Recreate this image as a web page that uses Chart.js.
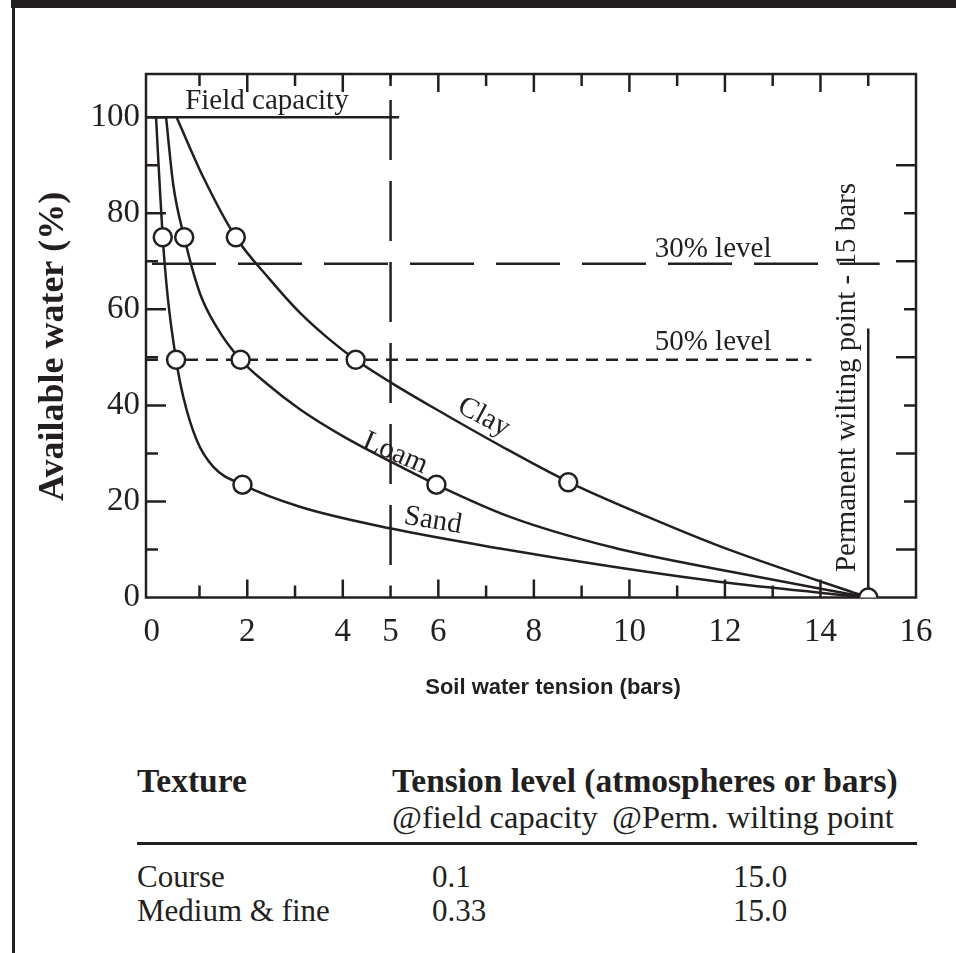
<!DOCTYPE html>
<html>
<head>
<meta charset="utf-8">
<script src="https://cdn.jsdelivr.net/npm/chart.js@4.4.1/dist/chart.umd.min.js"></script>
<style>
  html, body { margin: 0; padding: 0; background: #fff; }
  body { width: 956px; height: 953px; position: relative; overflow: hidden; font-family: 'Liberation Serif', serif; color: #231f20; }
  #topbar { position: absolute; left: 11px; top: 0; width: 945px; height: 8px; background: #231f20; }
  #leftline { position: absolute; left: 12px; top: 8px; width: 3px; height: 945px; background: #231f20; }
  #chart { position: absolute; left: 0; top: 0; }
  .t { position: absolute; white-space: nowrap; line-height: 32px; font-size: 31px; }
  .s { font-size: 32.5px; }
  .b { font-weight: bold; font-size: 33.5px; }
  #rule { position: absolute; left: 137px; top: 842px; width: 780px; height: 3px; background: #231f20; }
</style>
</head>
<body>
<div id="topbar"></div>
<div id="leftline"></div>
<canvas id="chart" width="956" height="720"></canvas>

<div class="t b" style="left:137px;top:765px">Texture</div>
<div class="t b" style="left:392px;top:765px">Tension level (atmospheres or bars)</div>
<div class="t s" style="left:392px;top:801px">@field capacity</div>
<div class="t s" style="left:612px;top:801px">@Perm. wilting point</div>
<div id="rule"></div>
<div class="t" style="left:137px;top:861px">Course</div>
<div class="t" style="left:432px;top:861px">0.1</div>
<div class="t" style="left:733px;top:861px">15.0</div>
<div class="t" style="left:137px;top:895px">Medium &amp; fine</div>
<div class="t" style="left:432px;top:895px">0.33</div>
<div class="t" style="left:733px;top:895px">15.0</div>

<script>
var ink = '#231f20';

// curves: x = tension (bars), y = available water (%)
var clayX = [0.52, 1.08, 1.76, 2.45, 3.10, 3.70, 4.27, 5.0, 5.9, 7.3, 8.72, 10.36, 12.1, 15];
var clayY = [100, 87.5, 75, 66.5, 59.3, 53.9, 49.5, 44.8, 39.5, 31.6, 24.1, 16.9, 9.9, 0];
var loamX = [0.30, 0.45, 0.68, 1.01, 1.36, 1.86, 2.41, 3.1, 4.0, 5.0, 5.96, 7.5, 9.66, 12.1, 15];
var loamY = [100, 86, 75, 63.3, 56.3, 49.5, 44.5, 39.2, 33.6, 28.3, 23.5, 16.8, 10.4, 5.4, 0];
var sandX = [0.09, 0.16, 0.23, 0.33, 0.51, 0.66, 0.94, 1.29, 1.90, 3.10, 4.99, 7.29, 9.66, 12.1, 15];
var sandY = [100, 87, 75, 63, 49.5, 41.8, 32.8, 27.2, 23.5, 18.9, 14.4, 10.2, 6.4, 3.0, 0];

// circled points (25, 50 and 75 % depletion)
var clayPtX = [1.76, 4.27, 8.72];
var clayPtY = [75, 49.5, 24];
var loamPtX = [0.68, 1.86, 5.96];
var loamPtY = [75, 49.5, 23.5];
var sandPtX = [0.23, 0.51, 1.90];
var sandPtY = [75, 49.5, 23.5];
var pwpPtX = [15];
var pwpPtY = [0];

// reference lines
var fieldCapX = [-0.12, 5.18];
var fieldCapY = [100, 100];
var level30X = [-0.12, 15.24];
var level30Y = [69.5, 69.5];
var level50X = [-0.12, 13.81];
var level50Y = [49.5, 49.5];
var fiveBarX = [5, 5];
var fiveBarY = [109, 3.5];
var pwpLineX = [15, 15];
var pwpLineY = [0, 56];

// axes
var xTickLabels = [0, 2, 4, 5, 6, 8, 10, 12, 14, 16];
var yTickLabels = [0, 20, 40, 60, 80, 100];
var xMinorTicks = [1, 2, 3, 4, 5, 6, 7, 8, 9, 10, 11, 12, 13, 14, 15];
var yMinorTicks = [10, 20, 30, 40, 50, 60, 70, 80, 90, 100];

function pts(xs, ys) {
  return xs.map(function (v, i) { return { x: v, y: ys[i] }; });
}

function curve(xs, ys) {
  return { data: pts(xs, ys), showLine: true, borderColor: ink, borderWidth: 2.5,
    pointRadius: 0, cubicInterpolationMode: 'monotone', order: 2 };
}

function refLine(xs, ys, dash, offset) {
  return { data: pts(xs, ys), showLine: true, borderColor: ink, borderWidth: 2.5,
    pointRadius: 0, borderDash: dash, borderDashOffset: offset || 0, order: 3 };
}

function circles(xs, ys) {
  return { data: pts(xs, ys), showLine: false, pointRadius: 9, pointHoverRadius: 9,
    pointBorderWidth: 2.5, pointBackgroundColor: '#fff', pointBorderColor: ink, order: 0 };
}

// text on the plot, anchored in data units
var serif = '29px "Liberation Serif"';
var notes = [
  { text: 'Field capacity', x: 0.70, y: 101.7, angle: 0 },
  { text: '30% level', x: 10.53, y: 70.9, angle: 0 },
  { text: '50% level', x: 10.53, y: 51.5, angle: 0 },
  { text: 'Clay', x: 6.37, y: 38.8, angle: 28 },
  { text: 'Loam', x: 4.38, y: 31.3, angle: 23 },
  { text: 'Sand', x: 5.26, y: 15.4, angle: 9.5 },
  { text: 'Permanent wilting point - 15 bars', x: 14.73, y: 5.3, angle: -90 },
  // axis titles
  { text: 'Soil water tension (bars)', x: 8.4, y: -18.8, angle: 0, align: 'center', base: 'middle',
    font: 'bold 22px "Liberation Sans"' },
  { text: 'Available water (%)', x: -2.06, y: 52.3, angle: -90, align: 'center', base: 'middle',
    font: 'bold 36px "Liberation Serif"' }
];

var frame = {
  id: 'frame',
  beforeDatasetsDraw: function (chart) {
    var ctx = chart.ctx, a = chart.chartArea, sx = chart.scales.x, sy = chart.scales.y;
    ctx.save();
    ctx.strokeStyle = ink;
    ctx.lineWidth = 2.5;
    ctx.strokeRect(a.left, a.top, a.right - a.left, a.bottom - a.top);
    ctx.beginPath();
    xMinorTicks.forEach(function (v) {
      var px = sx.getPixelForValue(v);
      var len = v % 2 === 0 ? 18 : 12;
      ctx.moveTo(px, a.bottom); ctx.lineTo(px, a.bottom - len);
      ctx.moveTo(px, a.top); ctx.lineTo(px, a.top + len);
    });
    yMinorTicks.forEach(function (v) {
      var py = sy.getPixelForValue(v);
      var len = v % 20 === 0 ? 20 : 12;
      ctx.moveTo(a.left, py); ctx.lineTo(a.left + len, py);
      if (v < 100) {
        var rlen = v % 20 === 0 ? 12 : 20;
        ctx.moveTo(a.right, py); ctx.lineTo(a.right - rlen, py);
      }
    });
    ctx.stroke();
    ctx.restore();
  }
};

var annotate = {
  id: 'annotate',
  afterDatasetsDraw: function (chart) {
    var ctx = chart.ctx, sx = chart.scales.x, sy = chart.scales.y;
    ctx.save();
    ctx.fillStyle = ink;
    notes.forEach(function (n) {
      ctx.save();
      ctx.font = n.font || serif;
      ctx.textAlign = n.align || 'left';
      ctx.textBaseline = n.base || 'alphabetic';
      ctx.translate(sx.getPixelForValue(n.x), sy.getPixelForValue(n.y));
      ctx.rotate(n.angle * Math.PI / 180);
      ctx.fillText(n.text, 0, 0);
      ctx.restore();
    });
    ctx.restore();
  }
};

new Chart(document.getElementById('chart'), {
  type: 'scatter',
  data: {
    datasets: [
      curve(clayX, clayY),
      curve(loamX, loamY),
      curve(sandX, sandY),
      refLine(fieldCapX, fieldCapY, []),
      refLine(level30X, level30Y, [64, 22], 80),
      refLine(level50X, level50Y, [12, 8]),
      refLine(fiveBarX, fiveBarY, [60, 21], 55),
      refLine(pwpLineX, pwpLineY, []),
      circles(clayPtX, clayPtY),
      circles(loamPtX, loamPtY),
      circles(sandPtX, sandPtY),
      circles(pwpPtX, pwpPtY)
    ]
  },
  options: {
    responsive: false,
    animation: false,
    devicePixelRatio: 1,
    layout: { padding: { left: 0, right: 40, top: 74, bottom: 0 } },
    plugins: { legend: { display: false }, tooltip: { enabled: false } },
    scales: {
      x: {
        type: 'linear', min: -0.12, max: 16,
        grid: { display: false, drawTicks: false },
        border: { display: false },
        afterBuildTicks: function (s) { s.ticks = xTickLabels.map(function (v) { return { value: v }; }); },
        afterFit: function (s) { s.height = 122.5; },
        ticks: { padding: 15, color: ink, autoSkip: false, maxRotation: 0,
          font: { family: 'Liberation Serif', size: 33 },
          callback: function (v) { return String(v); } },
        title: { display: false }
      },
      y: {
        type: 'linear', min: 0, max: 109,
        grid: { display: false, drawTicks: false },
        border: { display: false },
        afterBuildTicks: function (s) { s.ticks = yTickLabels.map(function (v) { return { value: v }; }); },
        afterFit: function (s) { s.width = 146; },
        ticks: { padding: 6, color: ink, autoSkip: false,
          font: { family: 'Liberation Serif', size: 33 },
          callback: function (v) { return String(v); } },
        title: { display: false }
      }
    }
  },
  plugins: [frame, annotate]
});
</script>
</body>
</html>
